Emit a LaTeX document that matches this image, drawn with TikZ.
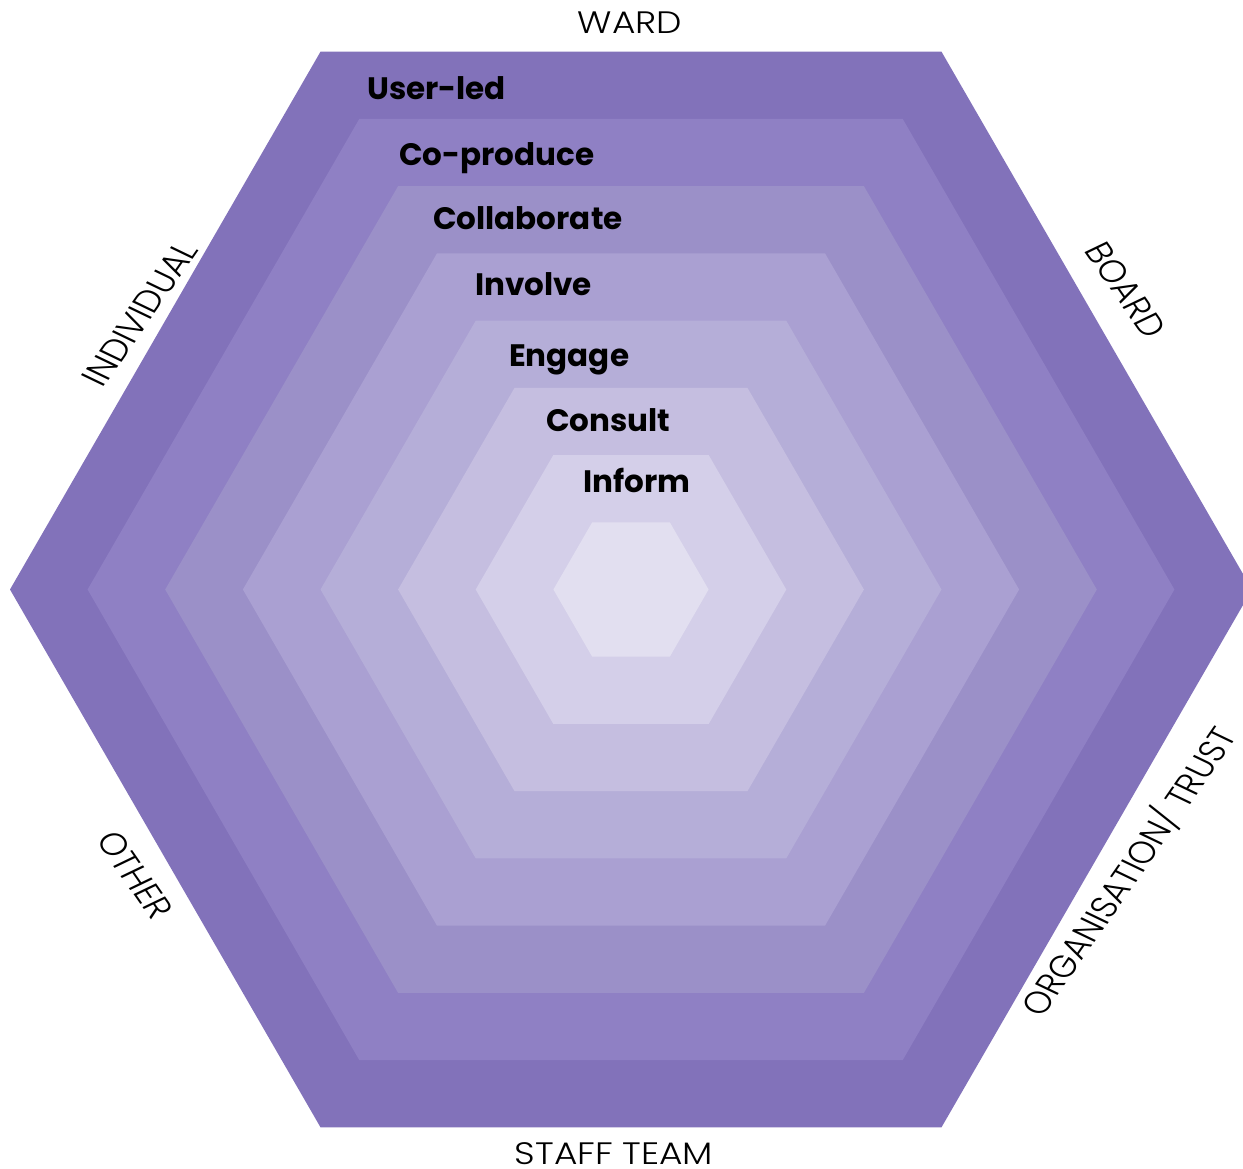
\documentclass[tikz,border=0pt]{standalone}
\usepackage{fontspec}
\setmainfont{Poppins}
\newfontfamily\lightfont[UprightFont={* Light}]{Poppins}
\definecolor{h8}{HTML}{8272BA}
\definecolor{h7}{HTML}{8F80C4}
\definecolor{h6}{HTML}{9B90C8}
\definecolor{h5}{HTML}{AAA0D2}
\definecolor{h4}{HTML}{B5AED8}
\definecolor{h3}{HTML}{C5BEE0}
\definecolor{h2}{HTML}{D4CFE9}
\definecolor{h1}{HTML}{E2DFF0}
\tikzset{
  level/.style={anchor=base west, inner sep=0pt, font=\fontsize{31}{34}\selectfont\bfseries},
  side/.style={inner sep=0pt, xscale=1.16, font=\fontsize{31}{34}\selectfont\lightfont},
  sidetilt/.style={inner sep=0pt, xscale=1.2, font=\fontsize{31}{34}\selectfont\lightfont},
}
\begin{document}
\begin{tikzpicture}[x=1pt,y=-1pt]
\useasboundingbox (0,0) rectangle (1243,1169);
\clip (0,0) rectangle (1243,1169);
\coordinate (c) at (631,589.5);
\foreach \r/\col in {621/h8,543.4/h7,465.8/h6,388.1/h5,310.5/h4,232.9/h3,155.3/h2,77.6/h1}{
  \fill[\col, shift={(c)}] (0:\r) -- (60:\r) -- (120:\r) -- (180:\r) -- (240:\r) -- (300:\r) -- cycle;
}
\node[level] (userled) at (367,100) {User-led};
\node[level] (coprod) at (399,166) {Co-produce};
\node[level] (collab) at (433,230) {Collaborate};
\node[level] (involve) at (475,295) {Involve};
\node[level] (engage) at (509,366) {Engage};
\node[level] (consult) at (546,431) {Consult};
\node[level] (inform) at (583,492) {Inform};
\node[side, anchor=base] (ward) at (630,34) {WARD};
\node[side, anchor=base] (staff) at (614,1164) {STAFF TEAM};
\node[sidetilt, rotate=60] (indiv) at (140,314) {INDIVIDUAL};
\node[sidetilt, rotate=-60] (board) at (1126,290) {BOARD};
\node[sidetilt, rotate=60, xscale=0.98] (org) at (1128,871) {ORGANISATION/ TRUST};
\node[sidetilt, rotate=-60] (other) at (135,875) {OTHER};
\end{tikzpicture}
\end{document}
